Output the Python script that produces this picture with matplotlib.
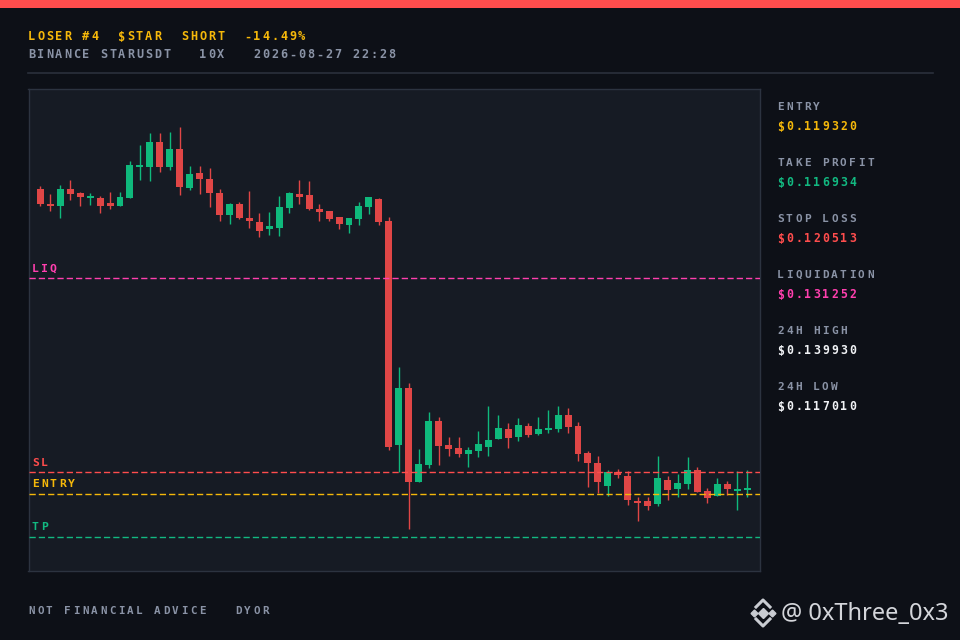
import matplotlib
matplotlib.use("Agg")
import matplotlib.pyplot as plt
from matplotlib.lines import Line2D
from matplotlib.patches import Rectangle

# candle data (open, high, low, close)
opens = [0.136180, 0.135349, 0.135239, 0.136180, 0.135958, 0.135682, 0.135682, 0.135405, 0.135239, 0.135682,
         0.137370, 0.137398, 0.138782, 0.137398, 0.138394, 0.136235, 0.137066, 0.136733, 0.135958, 0.134741,
         0.135349, 0.134574, 0.134353, 0.133965, 0.134021, 0.135128, 0.135903, 0.135848, 0.135073, 0.134962,
         0.134630, 0.134187, 0.134519, 0.135183, 0.135626, 0.134408, 0.122008, 0.125163, 0.119959, 0.120901,
         0.123336, 0.122008, 0.121842, 0.121509, 0.121676, 0.121897, 0.122340, 0.122893, 0.122451, 0.123060,
         0.122617, 0.122838, 0.122893, 0.123669, 0.123060, 0.121565, 0.121011, 0.119738, 0.120513, 0.120292,
         0.118908, 0.118908, 0.118741, 0.120070, 0.119572, 0.119849, 0.120624, 0.119461, 0.119184, 0.119849,
         0.119461, 0.119517]
highs = [0.136346, 0.135903, 0.136401, 0.136678, 0.136014, 0.135958, 0.135792, 0.136014, 0.136014, 0.137730,
         0.138616, 0.139225, 0.139225, 0.139280, 0.139557, 0.137453, 0.137453, 0.137342, 0.136180, 0.135405,
         0.135460, 0.136069, 0.134851, 0.134907, 0.135792, 0.136014, 0.136678, 0.136623, 0.135349, 0.134962,
         0.134630, 0.134574, 0.135460, 0.135737, 0.135682, 0.134630, 0.126326, 0.125440, 0.121786, 0.123835,
         0.123558, 0.122451, 0.122451, 0.121897, 0.122783, 0.124167, 0.123669, 0.123226, 0.123502, 0.123226,
         0.123558, 0.123945, 0.124167, 0.124056, 0.123281, 0.121676, 0.121399, 0.120624, 0.120679, 0.120568,
         0.119129, 0.119129, 0.121399, 0.120292, 0.120402, 0.121343, 0.120790, 0.119627, 0.120181, 0.120015,
         0.120568, 0.120624]
lows = [0.135239, 0.134962, 0.134574, 0.135571, 0.135239, 0.135294, 0.134851, 0.135073, 0.135239, 0.135682,
        0.136678, 0.136623, 0.137121, 0.137232, 0.135848, 0.136124, 0.135903, 0.135183, 0.134408, 0.134242,
        0.134519, 0.134021, 0.133523, 0.133633, 0.133578, 0.134851, 0.135349, 0.135017, 0.134408, 0.134408,
        0.133965, 0.133744, 0.134187, 0.134796, 0.134187, 0.121731, 0.120513, 0.117357, 0.119959, 0.120734,
        0.120901, 0.121399, 0.121343, 0.120790, 0.121343, 0.121399, 0.122340, 0.121842, 0.122229, 0.122451,
        0.122561, 0.122672, 0.122727, 0.122672, 0.121122, 0.119683, 0.119350, 0.119184, 0.120181, 0.118686,
        0.117800, 0.118409, 0.118631, 0.118963, 0.119129, 0.119572, 0.119406, 0.118797, 0.119184, 0.119240,
        0.118409, 0.119129]
closes = [0.135349, 0.135239, 0.136180, 0.135903, 0.135737, 0.135792, 0.135239, 0.135239, 0.135737, 0.137509,
          0.137453, 0.138782, 0.137398, 0.138394, 0.136291, 0.137010, 0.136733, 0.135958, 0.134741, 0.135349,
          0.134574, 0.134408, 0.133855, 0.134132, 0.135183, 0.135958, 0.135737, 0.135073, 0.134907, 0.134519,
          0.134242, 0.134574, 0.135239, 0.135737, 0.134353, 0.121897, 0.125163, 0.119959, 0.120956, 0.123336,
          0.121952, 0.121786, 0.121509, 0.121731, 0.122063, 0.122285, 0.122949, 0.122395, 0.123115, 0.122561,
          0.122893, 0.122949, 0.123669, 0.123004, 0.121509, 0.121011, 0.119959, 0.120513, 0.120347, 0.118963,
          0.118797, 0.118631, 0.120181, 0.119517, 0.119904, 0.120624, 0.119406, 0.119074, 0.119849, 0.119572,
          0.119572, 0.119627]

# trade levels
entry = 0.119320
take_profit = 0.116934
stop_loss = 0.120513
liquidation = 0.131252
high_24h = 0.139930
low_24h = 0.117010

header_1 = "LOSER #4  $STAR  SHORT  -14.49%"
header_2 = "BINANCE STARUSDT   10X   2026-08-27 22:28"
footer = "NOT FINANCIAL ADVICE   DYOR"
handle = "@ 0xThree_0x3"

BG = "#0d1017"
PANEL = "#161b24"
UP = "#0fb97c"
DOWN = "#e04646"
YELLOW = "#f5b80a"
GRAY = "#8a93a6"
RED = "#ff4d4d"
PINK = "#ff3fae"
GREEN = "#12b981"
WHITE = "#f0f2f5"

W, H = 960, 640
fig = plt.figure(figsize=(9.6, 6.4), dpi=100, facecolor=BG)


def px_text(x, y, text, color, size=8.6, adv=9.0, weight="bold"):
    # place each char on a fixed grid to mimic the wide pixel font
    for i, ch in enumerate(text):
        if ch == " ":
            continue
        fig.text((x + i * adv) / W, 1 - y / H, ch, color=color, fontsize=size,
                 family="DejaVu Sans Mono", weight=weight, ha="left", va="center")


# top accent bar
fig.add_artist(Rectangle((0, 1 - 8 / H), 1, 8 / H, transform=fig.transFigure,
                         facecolor=RED, edgecolor="none"))

px_text(28, 37, header_1, YELLOW)
px_text(28, 55, header_2, GRAY)
fig.add_artist(Line2D([28 / W, 933 / W], [1 - 72.5 / H, 1 - 72.5 / H],
                      color="#2a303c", lw=1.2))

# chart
ax = fig.add_axes([28.5 / W, 1 - 570.5 / H, 732 / W, 482 / H])
ax.set_facecolor(PANEL)
for sp in ax.spines.values():
    sp.set_color("#2c3340")
    sp.set_linewidth(1.0)
ax.set_xticks([])
ax.set_yticks([])

for i, (o, h, l, c) in enumerate(zip(opens, highs, lows, closes)):
    col = UP if c >= o else DOWN
    ax.plot([i, i], [l, h], color=col, lw=1.0, solid_capstyle="butt", zorder=2)
    ax.add_patch(Rectangle((i - 0.35, min(o, c)), 0.7, max(abs(c - o), 0.00009),
                           facecolor=col, edgecolor="none", zorder=3))

levels = [("LIQ", liquidation, PINK), ("SL", stop_loss, RED),
          ("ENTRY", entry, YELLOW), ("TP", take_profit, GREEN)]
for name, val, col in levels:
    ax.axhline(val, color=col, lw=1.0, dashes=(4.5, 2.2), zorder=4)

ax.set_xlim(-1.19, 72.33)
ax.set_ylim(0.115088, 0.14171)

# level tags, drawn in pixel space just above each line
tag_y = {"LIQ": 269, "SL": 463, "ENTRY": 484, "TP": 527}
for name, val, col in levels:
    px_text(32, tag_y[name], name, col, size=8.2)

# right info column
info = [("ENTRY", entry, YELLOW), ("TAKE PROFIT", take_profit, GREEN),
        ("STOP LOSS", stop_loss, RED), ("LIQUIDATION", liquidation, PINK),
        ("24H HIGH", high_24h, WHITE), ("24H LOW", low_24h, WHITE)]
for k, (label, val, col) in enumerate(info):
    y0 = 107 + 56 * k
    px_text(777, y0, label, GRAY, size=8.0)
    px_text(777, y0 + 20, f"${val:.6f}", col, size=8.3)

px_text(28, 611, footer, GRAY, size=7.8)

# watermark with a small diamond logo
lx, ly = 763, 613
logo = "#c9ccd2"
fig.add_artist(Line2D([lx / W], [1 - ly / H], marker="D", ms=5, mfc=logo, mec=logo))
for dx in (-9, 9):
    fig.add_artist(Line2D([(lx + dx) / W], [1 - ly / H], marker="D", ms=3.5,
                          mfc=logo, mec=logo))
for dy in (-1, 1):
    fig.add_artist(Line2D([(lx - 7) / W, lx / W, (lx + 7) / W],
                          [1 - (ly + dy * 6) / H, 1 - (ly + dy * 13) / H, 1 - (ly + dy * 6) / H],
                          color=logo, lw=2.2))
    fig.add_artist(Line2D([(lx - 7) / W, lx / W, (lx + 7) / W],
                          [1 - (ly - dy * 1) / H, 1 - (ly + dy * 6) / H, 1 - (ly - dy * 1) / H],
                          color=logo, lw=0))
fig.text(781 / W, 1 - 614 / H, handle, color="#d4d6db", fontsize=17,
         family="Noto Sans", ha="left", va="center")

fig.savefig("out.png", dpi=100, facecolor=BG)
